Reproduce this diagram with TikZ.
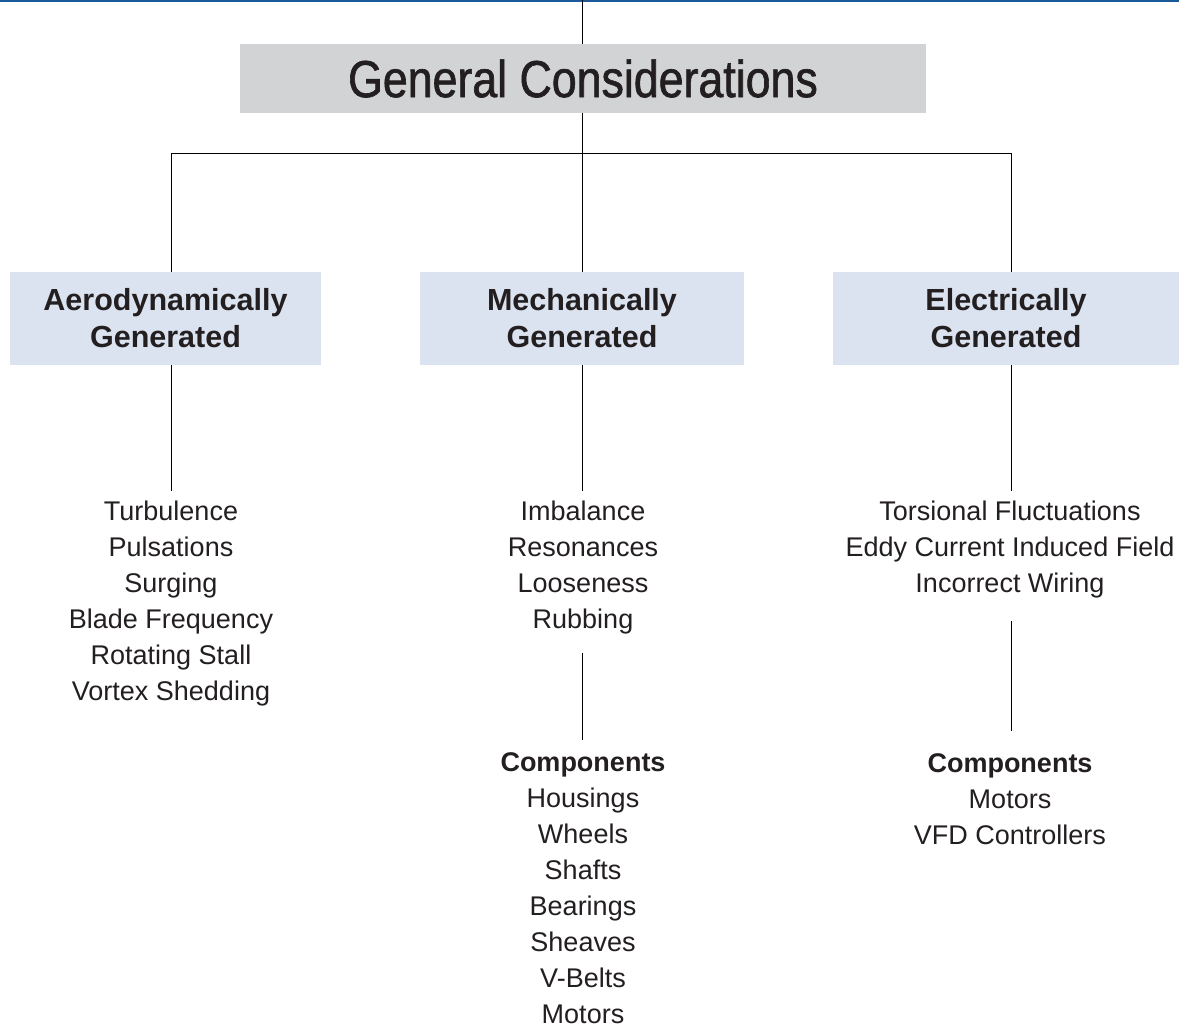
\documentclass[tikz,border=0pt]{standalone}
\usepackage{fontspec}
\setmainfont{Liberation Sans}
\newfontfamily\titlefont[FakeStretch=0.86,FakeBold=1.2]{Liberation Sans}
\definecolor{txt}{HTML}{231F20}
\definecolor{titlegray}{HTML}{D1D3D4}
\definecolor{headblue}{HTML}{DCE3F0}
\definecolor{topblue}{HTML}{1A5A9A}
\tikzset{
  titlebox/.style={fill=titlegray, text=txt, inner sep=0pt, minimum width=686pt, minimum height=69pt,
    font=\titlefont\fontsize{52}{58}\selectfont},
  headbox/.style={fill=headblue, text=txt, inner sep=0pt, minimum height=93pt, align=center,
    font=\bfseries\fontsize{30.5}{37}\selectfont},
  listtext/.style={text=txt, inner sep=0pt, align=center, font=\fontsize{27}{36}\selectfont},
  conn/.style={draw=black, line width=0.9pt}
}
\begin{document}
\begin{tikzpicture}[x=1pt,y=-1pt]
\useasboundingbox (0,0) rectangle (1179,1026);
\fill[white] (0,0) rectangle (1179,1026);
\draw[topblue, line width=2.2pt] (0,1) -- (1179,1);
\coordinate (top) at (582,0);

\node[titlebox] (title) at (583,78.5) {General Considerations};

\node[headbox, minimum width=311pt] (aero) at (165.5,318.5) {Aerodynamically\\Generated};
\node[headbox, minimum width=324pt] (mech) at (582,318.5) {Mechanically\\Generated};
\node[headbox, minimum width=346pt] (elec) at (1006,318.5) {Electrically\\Generated};

\node[listtext] (aerolist) at (171,604) {Turbulence\\Pulsations\\Surging\\Blade Frequency\\Rotating Stall\\Vortex Shedding};
\node[listtext] (mechlist) at (583,568) {Imbalance\\Resonances\\Looseness\\Rubbing};
\node[listtext] (mechcomp) at (583,888.5) {\bfseries Components\\Housings\\Wheels\\Shafts\\Bearings\\Sheaves\\V-Belts\\Motors};
\node[listtext] (eleclist) at (1010,550) {Torsional Fluctuations\\Eddy Current Induced Field\\Incorrect Wiring};
\node[listtext] (eleccomp) at (1010,799.5) {\bfseries Components\\Motors\\VFD Controllers};

\coordinate (jn) at (582,153);
\coordinate (aj) at (171,153);
\coordinate (ej) at (1011,153);
\coordinate (a1) at (171,365);
\coordinate (a2) at (171,491);
\coordinate (m1) at (582,491);
\coordinate (m2) at (582,653);
\coordinate (m3) at (582,740);
\coordinate (e1) at (1011,365);
\coordinate (e2) at (1011,491);
\coordinate (e3) at (1011,621);
\coordinate (e4) at (1011,731);

\draw[conn] (top) -- (title.north -| top);
\draw[conn] (title.south -| jn) -- (mech.north -| jn);
\draw[conn] (aero.north -| aj) -- (aj) -- (ej) -- (elec.north -| ej);
\draw[conn] (a1) -- (a2);
\draw[conn] (mech.south -| m1) -- (m1);
\draw[conn] (m2) -- (m3);
\draw[conn] (e1) -- (e2);
\draw[conn] (e3) -- (e4);
\end{tikzpicture}
\end{document}
